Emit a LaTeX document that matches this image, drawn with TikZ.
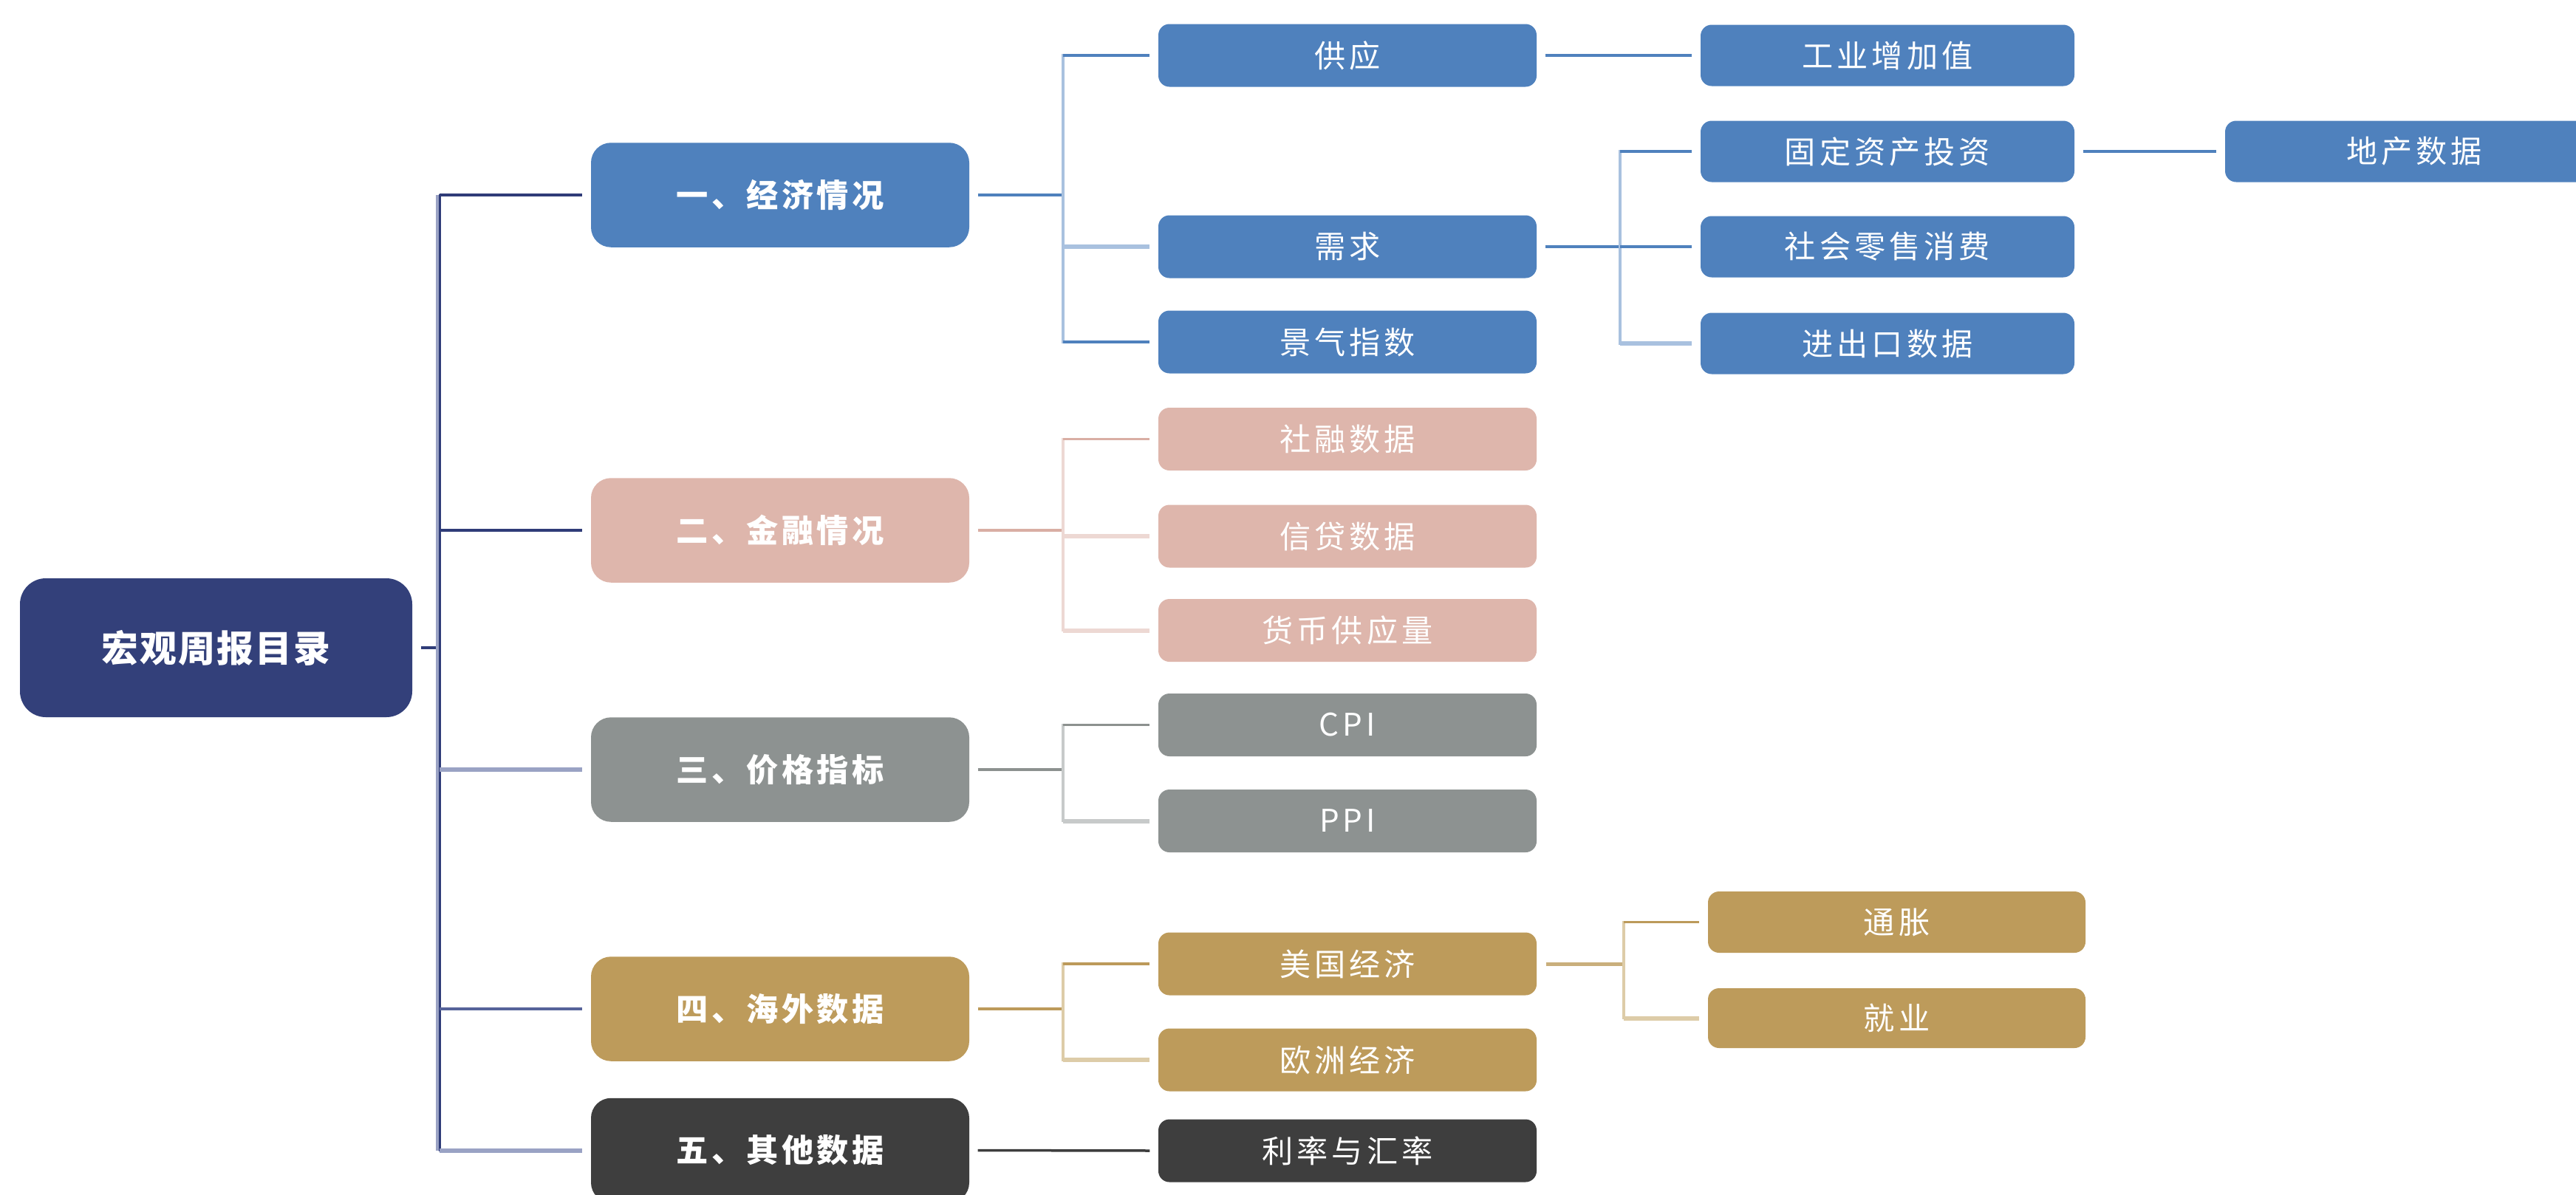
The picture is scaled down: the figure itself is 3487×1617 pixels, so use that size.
\documentclass[tikz,border=0pt]{standalone}
\usepackage{fontspec}
\setmainfont{Noto Sans CJK SC}
\newfontfamily\ltwofont[LetterSpace=12]{Noto Sans CJK SC}
\newfontfamily\lonefont[LetterSpace=10]{Noto Sans CJK SC}
\newfontfamily\rootfont[LetterSpace=4]{Noto Sans CJK SC}
\definecolor{rootc}{HTML}{33407A}
\definecolor{bluec}{HTML}{4F81BD}
\definecolor{pinkc}{HTML}{DEB6AC}
\definecolor{grayc}{HTML}{8D9291}
\definecolor{goldc}{HTML}{BD9B5B}
\definecolor{darkc}{HTML}{3E3E3E}
\definecolor{navyD}{HTML}{2F3C78}
\definecolor{navyM}{HTML}{56639A}
\definecolor{navyL}{HTML}{9AA2C4}
\definecolor{blueD}{HTML}{4F81BD}
\definecolor{blueL}{HTML}{A9C1DF}
\definecolor{pinkD}{HTML}{D9AEA4}
\definecolor{pinkL}{HTML}{EDD8D3}
\definecolor{grayD}{HTML}{8C918F}
\definecolor{grayL}{HTML}{C7CACA}
\definecolor{goldD}{HTML}{BC9A5A}
\definecolor{goldM}{HTML}{C9AF7C}
\definecolor{goldL}{HTML}{DDCCA8}
\begin{document}
\begin{tikzpicture}[x=0.1mm,y=-0.1mm,
  rootbox/.style={rounded corners=3.5mm, inner sep=0pt, text=white, fill=rootc,
    minimum width=53.1mm, minimum height=18.8mm, font=\rootfont\fontsize{14.2pt}{16pt}\selectfont\bfseries},
  onebox/.style={rounded corners=2.7mm, inner sep=0pt, text=white,
    minimum width=51.2mm, minimum height=14.15mm, font=\lonefont\fontsize{12.3pt}{14pt}\selectfont\bfseries},
  twobox/.style={rounded corners=1.5mm, inner sep=0pt, text=white,
    minimum width=51.2mm, minimum height=8.5mm, font=\ltwofont\fontsize{12pt}{14pt}\selectfont},
  threebox/.style={twobox, minimum width=50.6mm, minimum height=8.3mm},
  conn/.style={line width=0.35mm, shorten <=1.1mm, shorten >=1.1mm},
  thin/.style={line width=0.35mm},
  thick/.style={line width=0.6mm},
  vert/.style={line cap=rect}]
\useasboundingbox (0,0) rectangle (3487,1617);
\clip (0,0) rectangle (3487,1617);

% root and level one
\node[rootbox] (root) at (292.5,877) {宏观周报目录};
\node[onebox, fill=bluec] (la) at (1056,264) {一、经济情况};
\node[onebox, fill=pinkc] (lb) at (1056,718) {二、金融情况};
\node[onebox, fill=grayc] (lc) at (1056,1042) {三、价格指标};
\node[onebox, fill=goldc] (ld) at (1056,1366) {四、海外数据};
\node[onebox, fill=darkc] (le) at (1056,1557.5) {五、其他数据};

% level two
\node[twobox, fill=bluec] (gy) at (1824,75) {供应};
\node[twobox, fill=bluec] (xq) at (1824,334) {需求};
\node[twobox, fill=bluec] (jq) at (1824,463) {景气指数};
\node[twobox, fill=pinkc] (sr) at (1824,594.5) {社融数据};
\node[twobox, fill=pinkc] (xd) at (1824,726) {信贷数据};
\node[twobox, fill=pinkc] (hb) at (1824,853.5) {货币供应量};
\node[twobox, fill=grayc] (cpi) at (1824,981.5) {CPI};
\node[twobox, fill=grayc] (ppi) at (1824,1111.5) {PPI};
\node[twobox, fill=goldc] (mg) at (1824,1305) {美国经济};
\node[twobox, fill=goldc] (oz) at (1824,1435) {欧洲经济};
\node[twobox, fill=darkc] (ll) at (1824,1558) {利率与汇率};

% level three
\node[threebox, fill=bluec] (gz) at (2555,75) {工业增加值};
\node[threebox, fill=bluec] (gd) at (2555,205) {固定资产投资};
\node[threebox, fill=bluec] (sh) at (2555,334) {社会零售消费};
\node[threebox, fill=bluec] (jc) at (2555,465) {进出口数据};
\node[threebox, fill=goldc, minimum width=51.1mm] (tz) at (2567.5,1248.5) {通胀};
\node[threebox, fill=goldc, minimum width=51.1mm, minimum height=8.1mm] (jy) at (2567.5,1378.5) {就业};
\node[threebox, fill=bluec, minimum width=51.2mm] (dc) at (3268,205) {地产数据};

% junction coordinates
\coordinate (t0) at (595,876);
\coordinate (t1) at (1439,264);
\coordinate (t2) at (2193,334);
\coordinate (t3) at (2198,1305);

% root connectors
\draw[navyD, thin, shorten <=1.1mm] (root.east) -- (t0 |- root.east);
\draw[navyL, line width=0.5mm] ([xshift=-0.25mm]t0 |- la.west) -- ([xshift=-0.25mm]t0 |- le.west);
\draw[navyD, line width=0.3mm, vert] (t0 |- la.west) -- (t0 |- le.west);
\draw[navyD, thin, shorten >=1.1mm] (t0 |- la.west) -- (la.west);
\draw[navyD, thin, shorten >=1.1mm] (t0 |- lb.west) -- (lb.west);
\draw[navyL, thick, shorten >=1.1mm] (t0 |- lc.west) -- (lc.west);
\draw[navyM, line width=0.45mm, shorten >=1.1mm] (t0 |- ld.west) -- (ld.west);
\draw[navyL, thick, shorten >=1.1mm] (t0 |- le.west) -- (le.west);

% group one
\draw[blueD, thin, shorten <=1.1mm] (la.east) -- (t1 |- la.east);
\draw[blueL, thin, vert] (t1 |- gy.west) -- (t1 |- jq.west);
\draw[blueD, thin, shorten >=1.1mm] (t1 |- gy.west) -- (gy.west);
\draw[blueL, thick, shorten >=1.1mm] (t1 |- xq.west) -- (xq.west);
\draw[blueD, thin, shorten >=1.1mm] (t1 |- jq.west) -- (jq.west);
\draw[blueD, conn] (gy.east) -- (gz.west);
\draw[blueD, conn] (gd.east) -- (dc.west);
% demand group
\draw[blueD, thin, shorten <=1.1mm] (xq.east) -- (t2 |- xq.east);
\draw[blueL, thin, vert] (t2 |- gd.west) -- (t2 |- jc.west);
\draw[blueD, thin, shorten >=1.1mm] (t2 |- gd.west) -- (gd.west);
\draw[blueD, thin, shorten >=1.1mm] (t2 |- sh.west) -- (sh.west);
\draw[blueL, thick, shorten >=1.1mm] (t2 |- jc.west) -- (jc.west);

% group two
\draw[pinkD, thin, shorten <=1.1mm] (lb.east) -- (t1 |- lb.east);
\draw[pinkL, thin, vert] (t1 |- sr.west) -- (t1 |- hb.west);
\draw[pinkD, thin, shorten >=1.1mm] (t1 |- sr.west) -- (sr.west);
\draw[pinkL, thick, shorten >=1.1mm] (t1 |- xd.west) -- (xd.west);
\draw[pinkL, thick, shorten >=1.1mm] (t1 |- hb.west) -- (hb.west);

% group three
\draw[grayD, thin, shorten <=1.1mm] (lc.east) -- (t1 |- lc.east);
\draw[grayL, thin, vert] (t1 |- cpi.west) -- (t1 |- ppi.west);
\draw[grayD, thin, shorten >=1.1mm] (t1 |- cpi.west) -- (cpi.west);
\draw[grayL, thick, shorten >=1.1mm] (t1 |- ppi.west) -- (ppi.west);

% group four
\draw[goldD, thin, shorten <=1.1mm] (ld.east) -- (t1 |- ld.east);
\draw[goldL, thin, vert] (t1 |- mg.west) -- (t1 |- oz.west);
\draw[goldD, thin, shorten >=1.1mm] (t1 |- mg.west) -- (mg.west);
\draw[goldL, thick, shorten >=1.1mm] (t1 |- oz.west) -- (oz.west);
% US group
\draw[goldM, line width=0.5mm, shorten <=1.2mm] (mg.east) -- (t3 |- mg.east);
\draw[goldL, thin, vert] (t3 |- tz.west) -- (t3 |- jy.west);
\draw[goldD, thin, shorten >=1.1mm] (t3 |- tz.west) -- (tz.west);
\draw[goldL, thick, shorten >=1.1mm] (t3 |- jy.west) -- (jy.west);

% group five
\draw[darkc, conn] (le.east) -- (ll.west);
\end{tikzpicture}
\end{document}
